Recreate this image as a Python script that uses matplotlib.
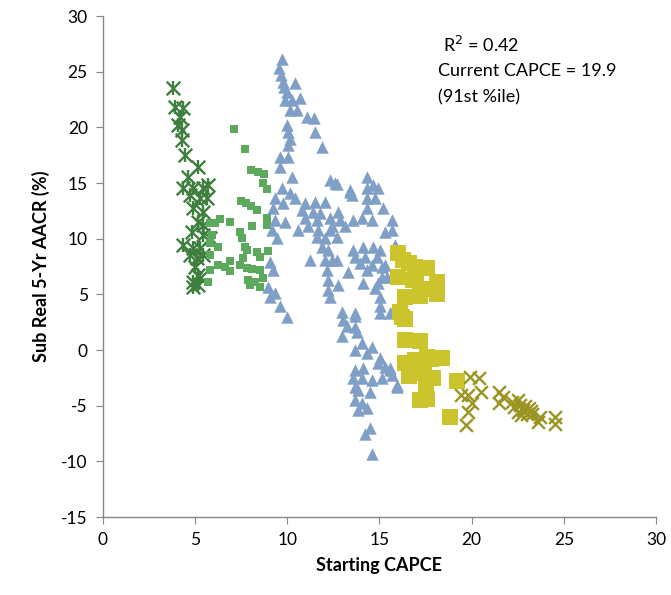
import matplotlib
matplotlib.use("Agg")
import matplotlib.pyplot as plt
import numpy as np

plt.rcParams['font.family'] = ['Lato', 'DejaVu Sans']
plt.rcParams['axes.unicode_minus'] = False

# 数据：起始 CAPCE 与随后 5 年实际年化回报 (%)
star_x = [3.80, 3.91, 4.34, 4.18, 4.07, 4.29, 4.29, 4.45, 5.15, 4.61, 4.34, 4.88,
          5.43, 5.70, 4.72, 5.26, 5.64, 4.88, 5.43, 5.15, 5.43, 4.83, 5.43, 5.81,
          4.34, 4.88, 5.26, 4.72, 5.10, 5.43, 4.99, 5.15, 4.88, 5.26, 4.88, 5.15]
star_y = [23.5, 21.8, 21.7, 20.9, 20.2, 19.8, 18.9, 17.5, 16.4, 15.5, 14.6, 14.6,
          14.6, 14.8, 13.9, 13.7, 13.7, 12.8, 12.4, 11.5, 11.2, 10.6, 10.3, 10.1,
          9.4, 9.2, 9.2, 8.5, 8.3, 8.5, 7.5, 6.7, 6.1, 6.5, 5.7, 5.8]

sq_small_x = [7.11, 7.70, 8.03, 8.41, 8.74, 8.68, 8.90, 7.49, 7.76, 8.03, 8.36, 6.35,
              6.08, 6.89, 8.08, 8.90, 8.90, 5.91, 7.43, 7.54, 5.81, 6.24, 7.70, 7.81,
              8.36, 8.95, 5.81, 7.60, 8.52, 6.24, 6.62, 6.89, 6.89, 7.43, 7.81, 8.08,
              8.52, 5.81, 8.68, 7.87, 8.25, 7.98, 8.52, 5.70, 5.81]
sq_small_y = [19.9, 18.1, 16.2, 16.0, 15.8, 15.0, 14.5, 13.4, 13.2, 12.9, 12.6, 11.8,
              11.4, 11.5, 11.1, 11.9, 11.2, 10.3, 10.6, 10.1, 9.6, 9.3, 9.3, 9.0,
              8.8, 8.9, 8.5, 8.3, 8.4, 7.6, 7.5, 8.0, 7.1, 7.6, 7.4, 7.3,
              7.2, 7.2, 6.5, 6.3, 6.1, 5.8, 5.7, 6.1, 11.4]

tri_x = [9.71, 9.55, 9.66, 9.77, 10.42, 9.82, 9.98, 10.69, 9.88, 10.26, 10.15, 10.53,
         11.07, 11.45, 11.50, 9.98, 10.04, 10.15, 10.04, 11.88, 9.60, 10.04, 9.60, 10.26,
         12.32, 9.71, 10.15, 9.33, 10.42, 9.77, 10.96, 11.50, 12.05, 9.22, 10.80, 11.39,
         11.77, 9.88, 10.96, 11.61, 12.32, 9.33, 9.17, 9.44, 10.58, 11.12, 11.67, 12.05,
         11.61, 12.32, 11.88, 12.21, 11.23, 12.05, 9.06, 9.22, 12.15, 12.21, 8.95, 9.06,
         9.33, 9.60, 9.98, 12.21,
         12.70, 14.32, 14.32, 14.65, 14.92, 13.40, 13.51, 14.32, 14.76, 15.19, 14.32, 12.75,
         12.86, 13.56, 14.05, 14.60, 15.68, 12.43, 13.13, 15.68, 15.30, 12.70, 12.59, 13.40,
         13.56, 14.11, 14.65, 15.03, 15.84, 13.67, 14.22, 14.87, 12.43, 12.70, 13.94, 14.60,
         15.14, 13.29, 14.32, 15.14, 14.92, 14.11, 12.75, 14.76, 15.03, 15.03, 12.32, 12.97,
         13.67, 13.02, 15.03, 15.57, 13.67, 15.30, 15.41, 15.68,
         13.67, 13.24, 13.78, 12.97, 14.05, 14.60, 13.67, 14.32, 15.03, 14.92, 15.57, 15.68,
         13.67, 14.11, 13.56, 14.05, 13.67, 14.60, 15.14, 15.95, 13.84, 14.49, 13.67, 14.05,
         14.32, 13.84, 14.49, 14.22, 14.60, 15.30, 15.57, 15.95]
tri_y = [26.1, 25.3, 24.7, 24.1, 24.0, 23.6, 23.2, 22.6, 22.5, 22.5, 21.6, 21.6,
         20.9, 20.8, 19.6, 20.2, 19.6, 19.0, 18.4, 18.2, 17.3, 17.3, 16.4, 15.5,
         15.3, 14.6, 14.1, 13.7, 13.7, 13.2, 13.2, 13.3, 13.3, 12.8, 12.6, 12.4,
         12.3, 11.5, 11.9, 11.7, 11.9, 11.7, 10.8, 10.1, 10.8, 11.1, 10.8, 10.1,
         10.2, 10.8, 9.3, 9.0, 8.1, 8.1, 7.9, 7.2, 7.2, 6.3, 5.7, 4.8,
         5.1, 4.0, 3.0, 5.4,
         14.9, 15.5, 14.6, 14.8, 14.6, 14.2, 13.9, 13.7, 13.7, 12.8, 12.8, 12.4,
         11.7, 11.7, 11.9, 11.7, 11.7, 11.1, 11.1, 10.8, 10.6, 10.2, 15.0, 14.4,
         9.0, 9.3, 9.3, 9.0, 9.4, 8.4, 8.4, 8.4, 8.1, 8.1, 7.8, 7.6,
         7.5, 7.0, 7.2, 6.6, 6.0, 6.0, 5.8, 5.6, 4.8, 4.0, 4.8, 3.4,
         3.3, 2.7, 3.3, 3.3, 2.1, 7.6, 6.6, 3.4,
         3.1, 2.2, 1.6, 1.3, 0.6, 0.3, 0.0, -0.3, -0.7, -1.2, -1.6, -2.2,
         -1.8, -1.6, -2.5, -2.5, -3.3, -2.7, -2.5, -3.3, -3.6, -3.8, -4.5, -4.8,
         -5.2, -5.4, -7.0, -7.5, -9.3, -1.5, -1.8, -3.1]

sq_big_x = [16.0, 16.3, 16.9, 17.6, 16.0, 16.8, 18.1, 16.4, 17.2, 18.1, 16.1, 16.4,
            16.4, 17.2, 16.4, 16.9, 17.6, 18.4, 16.6, 17.4, 17.9, 17.5, 17.2, 17.6,
            19.2, 18.8, 16.6, 17.0, 17.4, 16.2, 17.8, 17.5]
sq_big_y = [8.7, 8.1, 7.5, 7.4, 6.6, 6.3, 6.1, 4.8, 4.9, 5.0, 3.4, 2.8,
            0.9, 0.8, -1.2, -0.9, -0.6, -0.7, -2.3, -2.1, -2.5, -3.6, -4.5, -4.4,
            -2.8, -6.0, 7.8, 6.9, 5.5, 3.0, -0.8, -3.0]

cross_x = [19.9, 20.4, 19.4, 19.8, 20.5, 20.0, 19.8, 19.7, 21.5, 21.7, 21.5, 22.2,
           22.5, 22.6, 22.8, 22.5, 23.0, 23.3, 23.1, 23.7, 23.6, 24.5, 24.5, 22.7,
           22.9, 23.2, 22.3]
cross_y = [-2.4, -2.5, -4.0, -4.0, -3.8, -4.8, -5.6, -6.7, -3.8, -4.2, -4.8, -4.7,
           -4.5, -4.9, -5.4, -5.6, -5.7, -5.7, -5.2, -6.0, -6.5, -6.0, -6.6, -5.8,
           -5.0, -5.5, -5.1]

x_ticks = [0, 5, 10, 15, 20, 25, 30]
y_ticks = [-15, -10, -5, 0, 5, 10, 15, 20, 25, 30]

fig = plt.figure(figsize=(6.71, 5.95), dpi=100)
ax = fig.add_axes([0.1535, 0.131, 0.8241, 0.842])

# 星号 (x + 竖线)
ax.scatter(star_x, star_y, marker='x', s=95, color='#3E7F3E', linewidths=1.7, zorder=3)
ax.scatter(star_x, star_y, marker='|', s=95, color='#3E7F3E', linewidths=1.7, zorder=3)
ax.scatter(sq_small_x, sq_small_y, marker='s', s=26, color='#5CA85C', linewidths=0, zorder=3)
ax.scatter(tri_x, tri_y, marker='^', s=80, color='#7F9FC7', linewidths=0, zorder=3)
ax.scatter(sq_big_x, sq_big_y, marker='s', s=140, color='#CCC42C', linewidths=0, zorder=3)
ax.scatter(cross_x, cross_y, marker='x', s=85, color='#9A9521', linewidths=1.7, zorder=3)

ax.set_xlim(0, 30)
ax.set_ylim(-15, 30)
ax.set_xticks(x_ticks)
ax.set_yticks(y_ticks)
for side in ['top', 'right']:
    ax.spines[side].set_visible(False)
for side in ['left', 'bottom']:
    ax.spines[side].set_color('#868686')
    ax.spines[side].set_linewidth(1.0)
ax.tick_params(axis='both', direction='out', length=5, color='#868686',
               labelsize=12.5, labelcolor='#000000', pad=6)

ax.set_xlabel('Starting CAPCE', fontsize=13, fontweight='bold', labelpad=6)
ax.set_ylabel('Sub Real 5-Yr AACR (%)', fontsize=13, fontweight='bold', labelpad=8)

ax.text(0.615, 0.943, 'R$^2$ = 0.42', transform=ax.transAxes, fontsize=13,
        ha='left', va='center')
ax.text(0.606, 0.891, 'Current CAPCE = 19.9', transform=ax.transAxes, fontsize=13,
        ha='left', va='center')
ax.text(0.606, 0.838, '(91st %ile)', transform=ax.transAxes, fontsize=13,
        ha='left', va='center')

fig.savefig('out.png', dpi=100, facecolor='white')
